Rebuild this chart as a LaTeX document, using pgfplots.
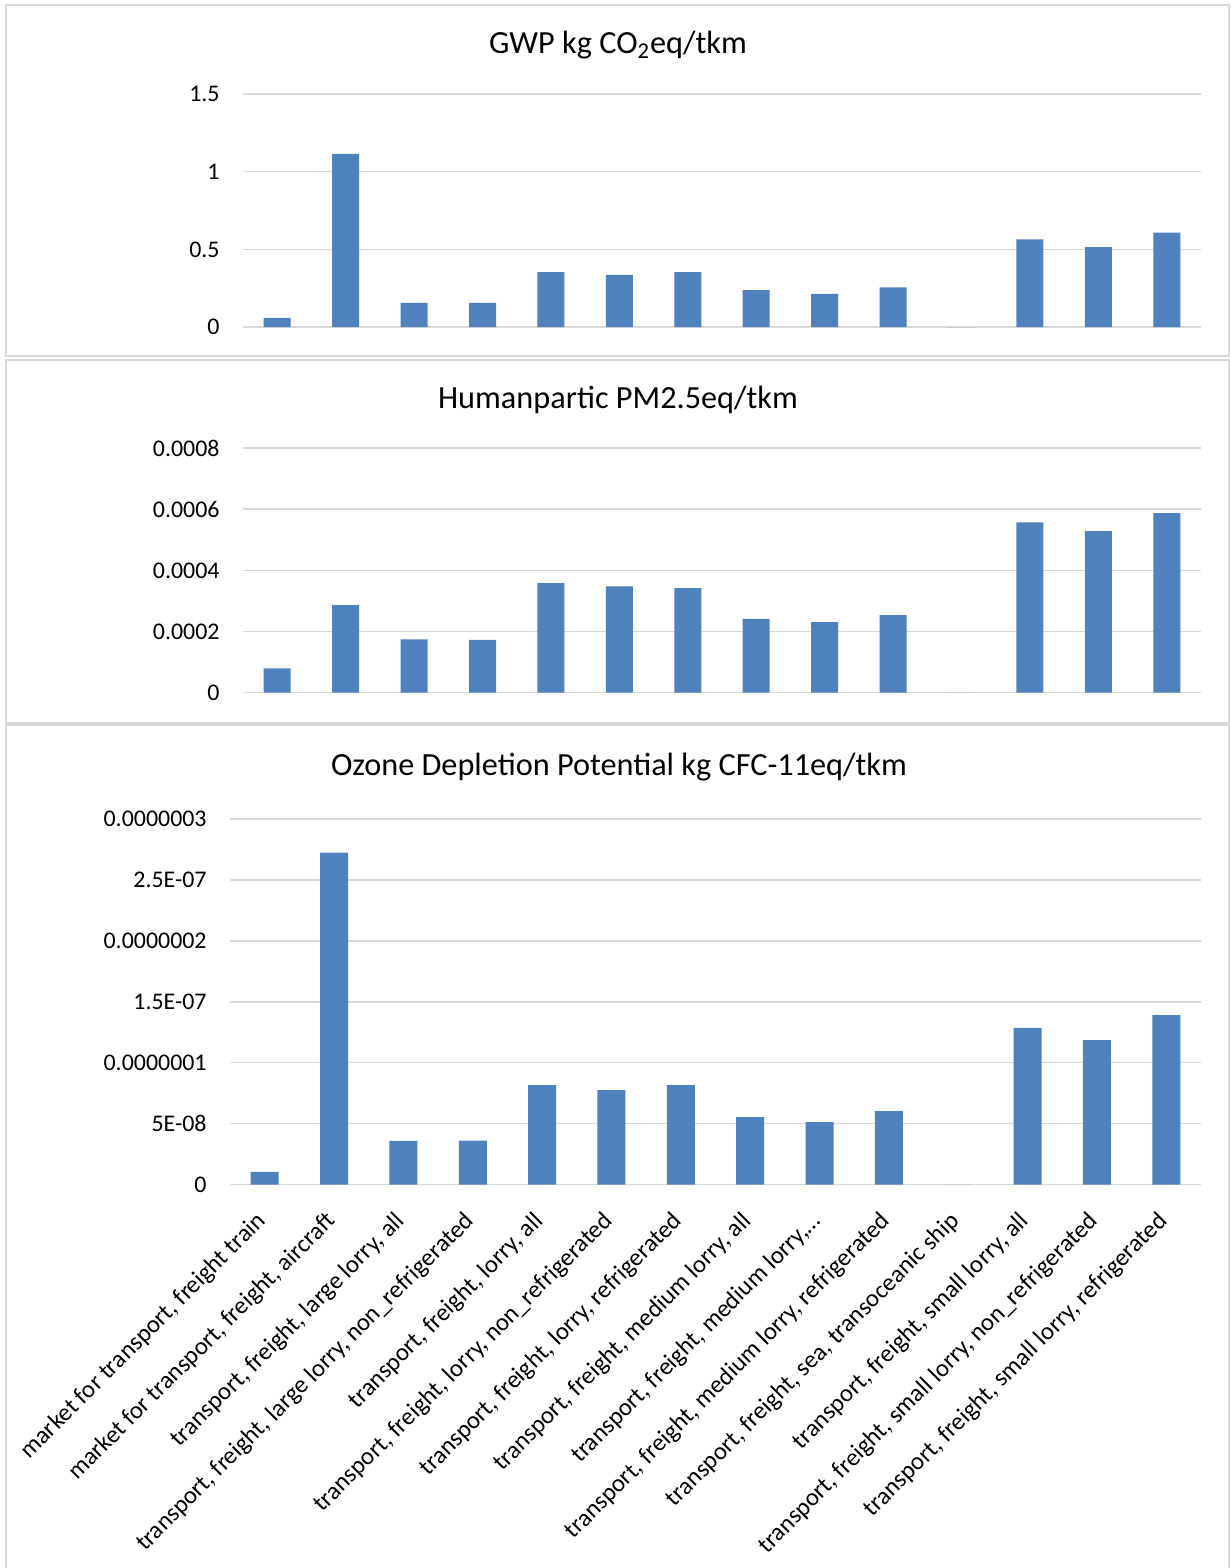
\documentclass[border=0pt]{standalone}
\usepackage{pgfplots}
\usepackage{pgfplotstable}
\pgfplotsset{compat=1.18}
\usepackage{fontspec}
\setmainfont{Carlito}

\definecolor{barblue}{HTML}{4F81BD}
\definecolor{gridgray}{HTML}{D9D9D9}

% x = category index, y = value per tkm
\pgfplotstableread{
x y
0 0.058
1 1.114
2 0.155
3 0.155
4 0.354
5 0.335
6 0.354
7 0.238
8 0.214
9 0.255
10 0
11 0.564
12 0.514
13 0.608
}\gwp

\pgfplotstableread{
x y
0 0.0000797
1 0.000286
2 0.000174
3 0.000173
4 0.000358
5 0.000348
6 0.000342
7 0.000241
8 0.000231
9 0.000254
10 0
11 0.000557
12 0.000528
13 0.000587
}\pm

\pgfplotstableread{
x y
0 1.04e-8
1 2.725e-7
2 3.58e-8
3 3.6e-8
4 8.16e-8
5 7.75e-8
6 8.16e-8
7 5.53e-8
8 5.12e-8
9 6.02e-8
10 0
11 1.285e-7
12 1.186e-7
13 1.39e-7
}\odp

\pgfplotsset{
  panel/.style={
    scale only axis, anchor=south west,
    xmin=-0.5, xmax=13.5, ymin=0,
    axis line style={draw=none},
    ymajorgrids, grid style={gridgray, line width=0.75bp},
    major tick length=0pt,
    xtick={0,...,13},
    scaled y ticks=false,
    tick label style={font=\fontsize{12}{14}\selectfont},
    /pgf/number format/assume math mode=true,
    yticklabel style={inner sep=0pt, xshift=-11.5bp},
    clip=false,
  },
}

\begin{document}
\begin{tikzpicture}
\useasboundingbox (0,0) rectangle (615.5bp,-784bp);
\fill[white] (0,0) rectangle (615.5bp,-784bp);

% panel frames
\draw[gridgray, line width=1bp] (3bp,-2.5bp) rectangle (614.5bp,-178bp);
\draw[gridgray, line width=1bp] (3bp,-179.75bp) rectangle (614.5bp,-361.25bp);
\draw[gridgray, line width=1bp] (3bp,-362.5bp) rectangle (614.5bp,-800bp);

% titles
\node[font=\fontsize{16.2}{19}\selectfont] at (309bp,-22.5bp) {GWP kg CO\textsubscript{2}eq/tkm};
\node[font=\fontsize{16.2}{19}\selectfont] at (309bp,-200bp) {Humanpartic PM2.5eq/tkm};
\node[font=\fontsize{16.2}{19}\selectfont] at (309.5bp,-383.5bp) {Ozone Depletion Potential kg CFC-11eq/tkm};

\begin{axis}[panel,
  at={(121.5bp,-163.5bp)},
  width=479bp, height=116.5bp,
  ymax=1.5,
  ytick={0,0.5,1,1.5}, yticklabels={0,0.5,1,1.5},
  xticklabels={},
]
\addplot[ybar, fill=barblue, draw=none, bar width=13.5bp] table[x=x,y=y] {\gwp};
\end{axis}

\begin{axis}[panel,
  at={(121.5bp,-346.35bp)},
  width=479bp, height=122.35bp,
  ymax=0.0008,
  ytick={0,0.0002,0.0004,0.0006,0.0008},
  yticklabels={0,0.0002,0.0004,0.0006,0.0008},
  xticklabels={},
]
\addplot[ybar, fill=barblue, draw=none, bar width=13.5bp] table[x=x,y=y] {\pm};
\end{axis}

\begin{axis}[panel,
  at={(115bp,-592.25bp)},
  width=485.5bp, height=182.75bp,
  ymax=3e-7,
  ytick={0,5e-8,1e-7,1.5e-7,2e-7,2.5e-7,3e-7},
  yticklabels={0,5E-08,0.0000001,1.5E-07,0.0000002,2.5E-07,0.0000003},
  xticklabels={
    {market for transport, freight train},
    {market for transport, freight, aircraft},
    {transport, freight, large lorry, all},
    {transport, freight, large lorry, non\_refrigerated},
    {transport, freight, lorry, all},
    {transport, freight, lorry, non\_refrigerated},
    {transport, freight, lorry, refrigerated},
    {transport, freight, medium lorry, all},
    {transport, freight, medium lorry,…},
    {transport, freight, medium lorry, refrigerated},
    {transport, freight, sea, transoceanic ship},
    {transport, freight, small lorry, all},
    {transport, freight, small lorry, non\_refrigerated},
    {transport, freight, small lorry, refrigerated}},
  xticklabel style={rotate=45, anchor=north east, inner sep=0pt, xshift=-12.4bp, yshift=-5.3bp,
    font=\fontsize{12.4}{14}\selectfont},
]
\addplot[ybar, fill=barblue, draw=none, bar width=14bp] table[x=x,y=y] {\odp};
\end{axis}
\end{tikzpicture}
\end{document}
